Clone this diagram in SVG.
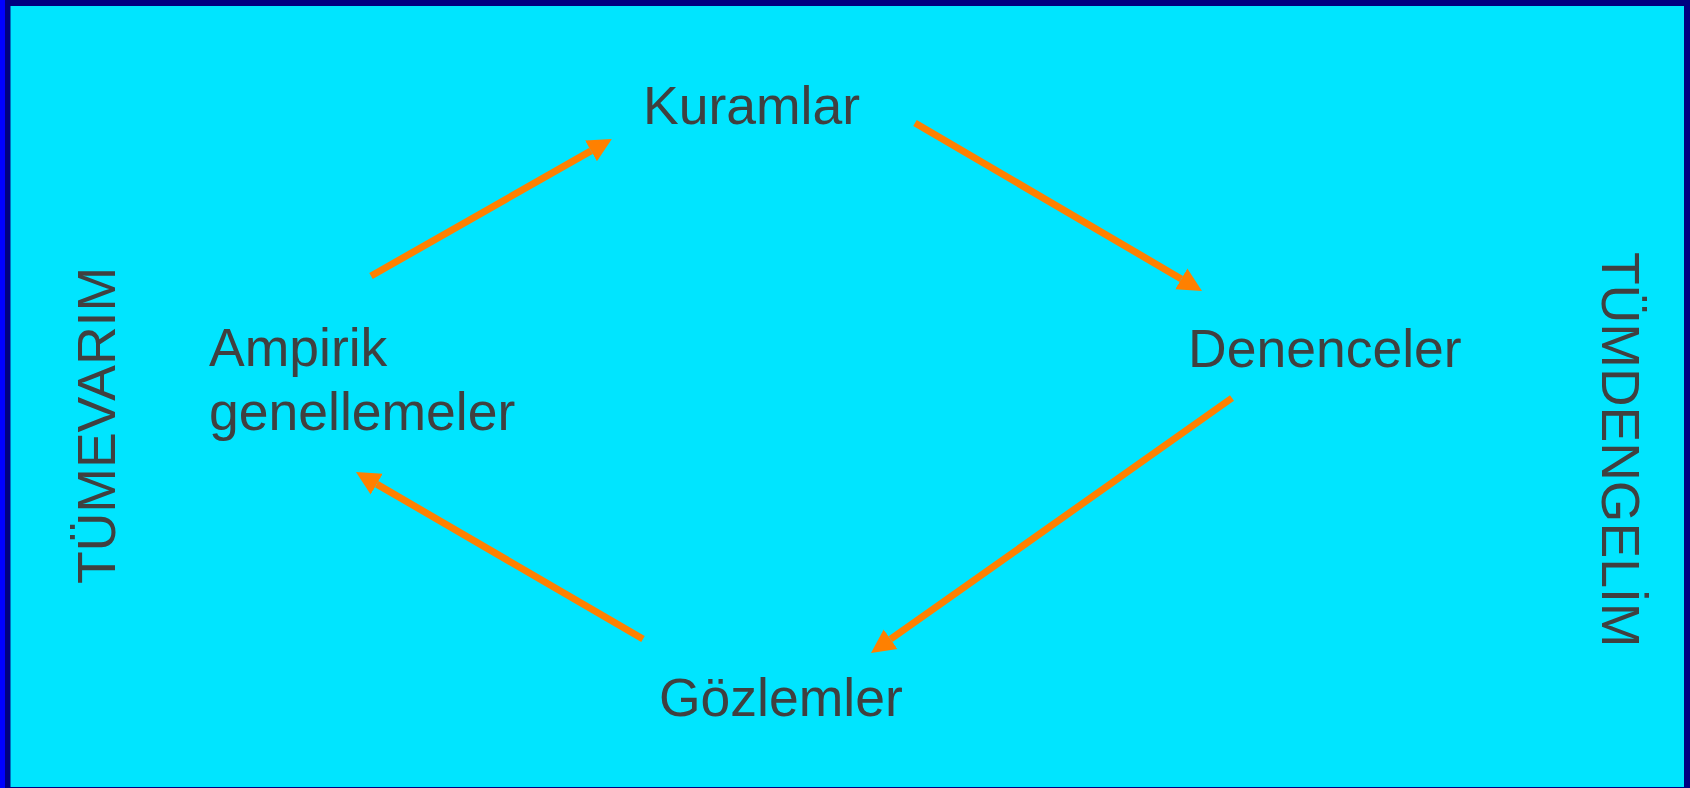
<svg xmlns="http://www.w3.org/2000/svg" width="1690" height="788" viewBox="0 0 1690 788">
  <style>
    .lbl { font-family: "Liberation Sans", Arial, sans-serif; font-size: 53.5px; fill: #404040; }
    .conn { stroke: #FF8000; stroke-width: 7; fill: none; stroke-linecap: butt; }
  </style>
  <defs>
    <marker id="head" markerUnits="userSpaceOnUse" markerWidth="26" markerHeight="26" viewBox="0 -13 26 26" refX="0" refY="0" orient="auto">
      <path d="M0,-12 L24,0 L0,12 Z" fill="#FF8000"/>
    </marker>
  </defs>
  <g id="frame">
    <rect x="0" y="0" width="1690" height="788" fill="#000080"/>
    <rect x="0" y="0" width="5" height="788" fill="#0000FF"/>
    <rect x="10.5" y="6" width="1673.5" height="781" fill="#00E5FF"/>
  </g>
  <g id="connectors">
    <line class="conn" x1="371" y1="276" x2="591" y2="150.9" marker-end="url(#head)"/>
    <line class="conn" x1="915" y1="123" x2="1181.3" y2="278.9" marker-end="url(#head)"/>
    <line class="conn" x1="1232" y1="398" x2="890.6" y2="639.2" marker-end="url(#head)"/>
    <line class="conn" x1="643" y1="639" x2="376.7" y2="484.1" marker-end="url(#head)"/>
  </g>
  <g id="kuramlar"><text class="lbl" x="643" y="124">Kuramlar</text></g>
  <g id="denenceler"><text class="lbl" x="1188" y="367">Denenceler</text></g>
  <g id="gozlemler"><text class="lbl" x="659" y="716">Gözlemler</text></g>
  <g id="ampirik"><text class="lbl" x="209" y="366">Ampirik<tspan x="209" y="430">genellemeler</tspan></text></g>
  <g id="tumevarim"><text class="lbl" transform="translate(115,584) rotate(-90)">TÜMEVARIM</text></g>
  <g id="tumdengelim"><text class="lbl" transform="translate(1602,252) rotate(90)">TÜMDENGELİM</text></g>
</svg>
